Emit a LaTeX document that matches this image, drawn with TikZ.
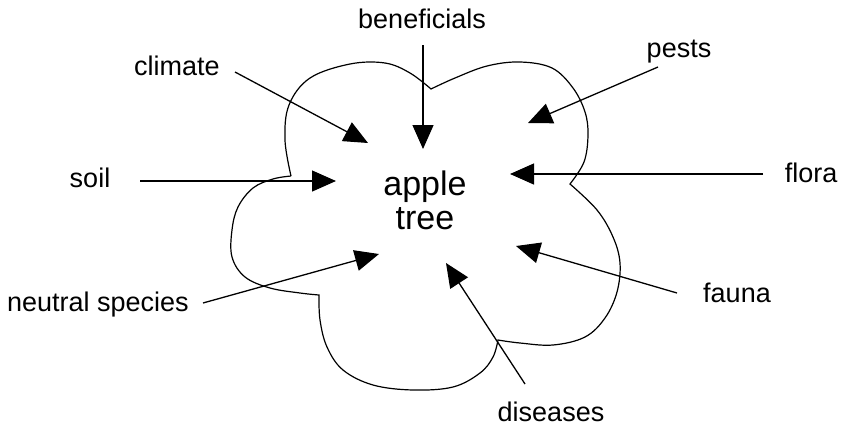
\documentclass[tikz,border=0pt]{standalone}
\usepackage{fontspec}
\setmainfont{Liberation Sans}
\usetikzlibrary{arrows.meta}
\begin{document}
\begin{tikzpicture}[x=1pt,y=-1pt,
  lbl/.style={anchor=base,inner sep=0pt,font=\fontsize{27}{32}\selectfont},
  arr/.style={line width=1.3pt,-{Triangle[length=24pt,width=21pt]}},
  cloud/.style={line width=1.2pt}]
\useasboundingbox (0,0) rectangle (842,426);
% cloud outline
\draw[cloud] plot[smooth,tension=0.6] coordinates {(291,176) (285,140) (289,105) (310,78) (350,64) (385,63) (410,73) (431,89)}
  -- plot[smooth,tension=0.6] coordinates {(431,89) (455,78) (487,66) (520,62) (552,68) (573,88) (585,112) (588,135) (584,162) (570,184)}
  -- plot[smooth,tension=0.6] coordinates {(570,184) (597,210) (613,237) (620,263) (617,292) (605,318) (585,337) (553,345) (520,343) (498,340)}
  -- plot[smooth,tension=0.6] coordinates {(498,340) (493,357) (480,373) (453,387) (413,390) (373,385) (343,370) (327,347) (320,320) (319,295)}
  -- plot[smooth,tension=0.6] coordinates {(319,295) (300,293) (270,288) (245,277) (232,257) (232,230) (238,207) (253,188) (273,179) (291,176)};
% centre
\node[align=center,inner sep=0pt,font=\fontsize{34}{34}\selectfont] (tree) at (425,200) {apple\\tree};
% labels
\node[lbl] (ben) at (422,28) {beneficials};
\node[lbl] (cli) at (177,75) {climate};
\node[lbl] (pes) at (679,57) {pests};
\node[lbl] (soi) at (90,187) {soil};
\node[lbl] (flo) at (811,182) {flora};
\node[lbl] (neu) at (98,311) {neutral species};
\node[lbl] (fau) at (737,302) {fauna};
\node[lbl] (dis) at (551,421) {diseases};
% arrow ends
\coordinate (benS) at (423,45);  \coordinate (benT) at (423,149);
\coordinate (cliS) at (235,72);  \coordinate (cliT) at (368,143);
\coordinate (pesS) at (658,67);  \coordinate (pesT) at (528,123);
\coordinate (soiS) at (140,181); \coordinate (soiT) at (336,181);
\coordinate (floS) at (763,174); \coordinate (floT) at (510,174);
\coordinate (neuS) at (203,303); \coordinate (neuT) at (379,254);
\coordinate (fauS) at (677,293); \coordinate (fauT) at (516,246);
\coordinate (disS) at (525,384); \coordinate (disT) at (446,263);
\foreach \a in {ben,cli,pes,soi,flo,neu,fau,dis}
  \draw[arr] (\a S) -- (\a T);
\end{tikzpicture}
\end{document}
